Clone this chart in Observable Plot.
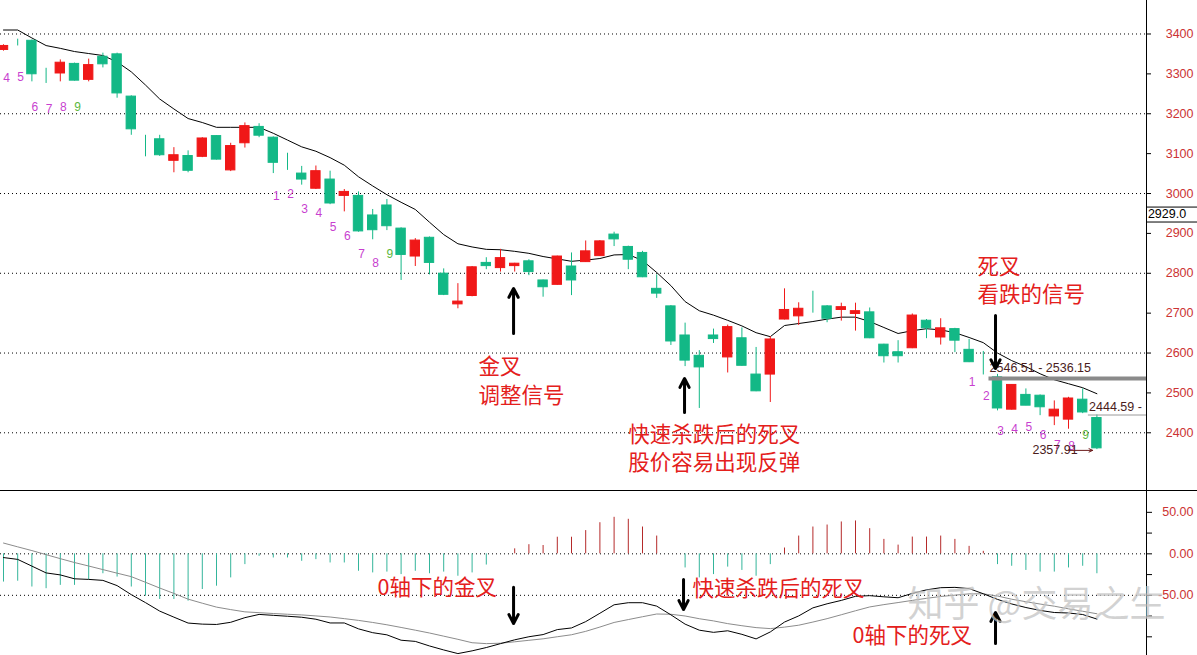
<!DOCTYPE html>
<html><head><meta charset="utf-8">
<script src="https://cdn.jsdelivr.net/npm/d3@7"></script>
<script src="https://cdn.jsdelivr.net/npm/@observablehq/plot@0.6"></script>
<style>
html,body{margin:0;padding:0;background:#fff;overflow:hidden}
#chart svg{display:block}
</style></head><body><div id="chart"></div>
<script>
// ---------- data ----------
const open  = [3360,3378,3383,3301,3301,3325,3285,3343,3349,3243,3130,3136,3082,3094,3092,3144,3058,3126,3167,3140,3069,3050,3012,3035,2994,2994,2945,2970,2912,2842,2889,2799,2722,2743,2826,2813,2818,2830,2782,2771,2817,2828,2843,2897,2866,2851,2761,2717,2644,2593,2644,2589,2637,2546,2546,2684,2692,2727,2717,2708,2698,2702,2621,2602,2612,2681,2639,2660,2608,2574,2539,2458,2495,2493,2441,2433,2483,2437];
const high  = [3373,3387,3385,3314,3335,3327,3337,3352,3352,3245,3146,3146,3115,3107,3140,3145,3126,3177,3175,3142,3101,3068,3069,3056,3010,3004,2960,2985,2914,2887,2891,2811,2774,2817,2839,2860,2825,2834,2783,2843,2851,2881,2882,2903,2868,2855,2796,2719,2675,2606,2660,2670,2663,2614,2641,2761,2726,2755,2719,2725,2725,2713,2622,2631,2698,2684,2686,2662,2634,2604,2546.51,2520,2510,2495,2480,2489,2510,2444.59];
const low   = [3357,3370,3280,3276,3280,3282,3280,3315,3239,3146,3092,3093,3052,3052,3090,3084,3055,3114,3140,3050,3058,3021,3010,2972,2954,2903,2884,2907,2782,2817,2796,2744,2711,2741,2809,2803,2803,2794,2740,2770,2744,2827,2842,2867,2809,2789,2737,2619,2566,2461,2624,2550,2567,2503,2476,2683,2669,2700,2676,2680,2655,2636,2575,2575,2611,2636,2620,2601,2576,2545,2455,2457,2468,2443,2418,2409,2448,2357.91];
const close = [3370,3378,3299,3301,3328,3283,3322,3324,3251,3161,3130,3096,3096,3057,3138,3085,3119,3169,3145,3077,3069,3035,3056,2975,3004,2905,2908,2918,2846,2882,2826,2746,2729,2815,2818,2838,2824,2803,2765,2842,2782,2855,2880,2885,2834,2790,2749,2629,2581,2564,2635,2665,2568,2504,2634,2708,2711,2727,2686,2715,2705,2637,2592,2592,2694,2662,2662,2631,2577,2574,2461,2520,2468,2464,2458,2486,2451,2361];
const maLine = [3410,3410,3390,3371,3364,3356,3351,3346,3330,3305,3272,3237,3212,3188,3178,3166,3166,3166,3166,3151,3134,3117,3106,3090,3071,3042,3019,2997,2978,2960,2928,2897,2874,2866,2860,2859,2855,2850,2842,2836,2830,2833,2837,2846,2847,2832,2802,2769,2729,2706,2695,2682,2668,2651,2641,2669,2674,2679,2685,2690,2690,2679,2664,2649,2656,2661,2658,2651,2639,2626,2600,2581,2566,2548,2533,2523,2513,2498];

const dif  = [-4.5,-6.7,-14.8,-23.0,-25.4,-30.1,-30.8,-32.0,-38.3,-49.2,-58.8,-69.0,-76.3,-83.4,-84.7,-85.1,-82.5,-76.9,-73.0,-74.1,-75.2,-76.4,-78.8,-83.3,-83.3,-90.4,-95.0,-97.6,-104.1,-105.5,-111.0,-115.8,-120.2,-116.9,-112.9,-108.2,-103.6,-99.9,-97.3,-91.3,-89.3,-81.7,-71.6,-61.4,-58.9,-58.9,-63.0,-73.5,-84.7,-92.0,-94.6,-92.7,-97.0,-102.5,-94.1,-82.2,-74.8,-65.1,-60.2,-56.1,-51.2,-50.4,-51.8,-52.9,-47.7,-43.4,-40.8,-40.4,-41.9,-48.1,-54.9,-60.4,-64.7,-68.2,-70.7,-71.3,-73.1,-78.6];
const dea  = [13.0,8.4,3.9,-1.0,-5.8,-10.5,-14.7,-19.0,-23.3,-27.5,-34.3,-41.2,-47.7,-54.6,-59.5,-64.2,-67.2,-69.9,-70.9,-71.9,-72.8,-73.6,-74.8,-76.1,-78.1,-80.2,-82.7,-85.5,-88.7,-92.0,-95.4,-99.2,-103.0,-107.1,-108.2,-107.7,-106.0,-104.2,-102.4,-99.9,-97.5,-93.4,-88.2,-82.7,-79.2,-75.8,-72.5,-72.8,-74.9,-78.2,-80.8,-84.1,-86.6,-88.9,-90.1,-88.3,-86.0,-82.2,-78.1,-73.4,-68.6,-64.0,-61.2,-58.7,-56.1,-53.6,-51.4,-49.8,-48.2,-48.2,-50.8,-54.7,-57.7,-60.5,-63.1,-66.3,-69.2,-72.2];
const hist = [-34,-33,-40,-42,-38,-38,-31,-24,-28,-40,-51,-55,-55,-57,-43,-39,-29,-13,-3,-5,-5,-9,-7,-11,-11,-21,-23,-22,-25,-21,-24,-22,-27,-23,-13.5,0,6,11,10,20,20,28,37.5,44,41.6,32.3,21.4,0,-17,-29,-25,-16,-20,-27,-13,7,21.4,32.3,34.7,38.4,39.6,30.3,17.4,10.5,20.2,20.2,21.4,17.4,9,3,-13,-15,-20,-22,-22,-17,-15,-24];

// TD-sequence count labels
const tdIdx   = [0,1,2,3,4,5, 19,20,21,22,23,24,25,26,27, 68,69,70,71,72,73,74,75,76];
const tdText  = ["4","5","6","7","8","9","1","2","3","4","5","6","7","8","9","1","2","3","4","5","6","7","8","9"];
const tdPrice = [3289,3292,3217,3212,3217,3217, 2993,2998,2960,2950,2915,2892,2847,2825,2847, 2526,2493,2405,2410,2415,2395,2370,2367,2395];

// price-axis ticks / grid
const mainTicks = [2400,2500,2600,2700,2800,2900,3000,3100,3200,3300,3400];
const mainGrid  = [2400,2600,2800,3000,3200,3400];
const macdTicks = [-100,-75,-50,-25,0,25,50];
const macdLabeled = [-50,0,50];
const macdGrid  = [0,-50];

// annotations (anchored at bar index / value)
const notesMain = [
  {i:33.45, p:2564, t:"金叉"},
  {i:33.45, p:2493, t:"调整信号"},
  {i:44.0,  p:2393, t:"快速杀跌后的死叉"},
  {i:44.0,  p:2323, t:"股价容易出现反弹"},
  {i:68.6,  p:2816, t:"死叉"},
  {i:68.6,  p:2744, t:"看跌的信号"}
];
const arrowsMain = [
  {i:35.92, p1:2649, p2:2762},
  {i:47.96, p1:2451, p2:2536},
  {i:69.86, p1:2694, p2:2561}
];
const notesMacd = [
  {i:26.34, v:-41.2, t:"0轴下的金叉"},
  {i:48.52, v:-43.0, t:"快速杀跌后的死叉"},
  {i:59.79, v:-99.6, t:"0轴下的死叉"}
];
const arrowsMacd = [
  {i:35.92, v1:-40.2, v2:-84.0},
  {i:47.89, v1:-31.0, v2:-67.1},
  {i:69.86, v1:-108.1, v2:-70.7}
];
const rangeLabel = "2546.51 - 2536.15";
const rangeLow = 2536.15;
const hiLabel = "2444.59 -", hiValue = 2444.59;
const loLabel = "2357.91",  loValue = 2357.91;
const lastLabel = "2929.0", lastBoxTop = 2966, lastBoxBottom = 2928.5, lastMid = 2949;
const watermark = "知乎 @交易之生";

// ---------- layout ----------
const W = 1197, AXIS_PX = 1146, BAR_PX = 14.2, X0_PX = 3;
const xDomain = [-X0_PX / BAR_PX, (AXIS_PX - X0_PX) / BAR_PX];
const xRight = xDomain[0] + W / BAR_PX;
const RED = "#f01818", GREEN = "#13b886";
const CJK = "'Noto Sans CJK SC', sans-serif";
const NUM = "'Liberation Sans', Arial, sans-serif";
const NOTE_RED = "#e4201c";

const candles = open.map((o, i) => ({i, o, h: high[i], l: low[i], c: close[i]}));
const cColor = d => d.c > d.o ? RED : GREEN;
const ma = maLine.map((v, i) => ({i, v}));
const td = tdIdx.map((i, k) => ({i, t: tdText[k], p: tdPrice[k]}));
const macd = hist.map((h, i) => ({i, h, dif: dif[i], dea: dea[i]}));

const main = Plot.plot({
  width: W, height: 491,
  marginTop: 0, marginBottom: 1, marginLeft: 0, marginRight: W - AXIS_PX,
  x: {domain: xDomain, axis: null},
  y: {domain: [2255.3, 3484], axis: null},
  style: {fontFamily: NUM, background: "#fff", overflow: "visible"},
  marks: [
    Plot.ruleY(mainGrid, {stroke: "#000", strokeDasharray: "1,3", strokeWidth: 1}),
    Plot.line(ma, {x: "i", y: "v", stroke: "#000", strokeWidth: 1}),
    Plot.ruleX(candles, {x: "i", y1: "l", y2: "h", stroke: cColor, strokeWidth: 1}),
    Plot.rect(candles, {x1: d => d.i - 0.33, x2: d => d.i + 0.33, y1: "o", y2: "c", fill: cColor, stroke: cColor, strokeWidth: 1}),
    Plot.text(td, {x: "i", y: "p", text: "t", dx: 3, fontSize: 12, fontFamily: NUM,
      fill: d => d.t === "9" ? "#5cb83c" : "#c83fcf"}),
    // range / high / low markers
    Plot.ruleY([rangeLow], {x1: 69.4, x2: xDomain[1], stroke: "#8a8a8a", strokeWidth: 4}),
    Plot.text([rangeLabel], {x: 69.44, y: 2563, text: d => d, textAnchor: "start", fontSize: 12.5, fill: "#4a1c1c", fontFamily: NUM}),
    Plot.ruleY([hiValue], {x1: 76.4, x2: xDomain[1], stroke: "#9a9a9a", strokeWidth: 1}),
    Plot.text([hiLabel], {x: 76.45, y: 2464, text: d => d, textAnchor: "start", fontSize: 12.5, fill: "#4a1c1c", fontFamily: NUM}),
    Plot.text([loLabel], {x: 72.46, y: loValue, text: d => d, textAnchor: "start", fontSize: 12.5, fill: "#4a1c1c", fontFamily: NUM}),
    Plot.arrow([loValue], {x1: 75.0, x2: 76.7, y1: d => d - 2, y2: d => d - 2, stroke: "#6a1a1a", strokeWidth: 1, headLength: 6, headAngle: 50}),
    // annotations
    Plot.text(notesMain, {x: "i", y: "p", text: "t", textAnchor: "start", fontSize: 21.5, fontFamily: CJK, fill: NOTE_RED}),
    Plot.arrow(arrowsMain, {x1: "i", x2: "i", y1: "p1", y2: "p2", stroke: "#000", strokeWidth: 3, headLength: 5, headAngle: 55}),
    // right axis
    Plot.ruleX([xDomain[1]], {stroke: "#000"}),
    Plot.axisY({anchor: "right", ticks: mainTicks, tickSize: 4, tickPadding: 43, textAnchor: "end",
      tickFormat: d => String(d), stroke: "#000", fill: "#cc3333", fontSize: 12.5, label: null}),
    // last value box
    Plot.ruleY([lastBoxTop, lastBoxBottom], {x1: xDomain[1], x2: xRight, stroke: "#000", strokeWidth: 1}),
    Plot.text([lastLabel], {x: xDomain[1] + 0.1, y: lastMid, text: d => d, textAnchor: "start", fontSize: 12.5, fill: "#000", fontFamily: NUM}),
    // panel bottom border
    Plot.ruleY([2255.3], {x1: xDomain[0], x2: xRight, stroke: "#000", strokeWidth: 1})
  ]
});

const sub = Plot.plot({
  width: W, height: 164,
  marginTop: 0, marginBottom: 0, marginLeft: 0, marginRight: W - AXIS_PX,
  x: {domain: xDomain, axis: null},
  y: {domain: [-122.5, 75.1], axis: null},
  style: {fontFamily: NUM, background: "#fff", overflow: "visible"},
  marks: [
    Plot.ruleY(macdGrid, {stroke: "#000", strokeDasharray: "1,3", strokeWidth: 1}),
    Plot.ruleX(macd, {x: "i", y1: 0, y2: "h", stroke: d => d.h >= 0 ? "#b52a2a" : "#34b59b", strokeWidth: 1}),
    Plot.line(macd, {x: "i", y: "dea", stroke: "#8c8c8c", strokeWidth: 1}),
    Plot.line(macd, {x: "i", y: "dif", stroke: "#000", strokeWidth: 1}),
    Plot.text(notesMacd, {x: "i", y: "v", text: "t", textAnchor: "start", fontSize: 21.5, fontFamily: CJK, fill: NOTE_RED}),
    Plot.arrow(arrowsMacd, {x1: "i", x2: "i", y1: "v1", y2: "v2", stroke: "#000", strokeWidth: 3, headLength: 5, headAngle: 55}),
    Plot.ruleX([xDomain[1]], {stroke: "#000"}),
    Plot.axisY({anchor: "right", ticks: macdTicks, tickSize: 5, tickPadding: 42, textAnchor: "end",
      tickFormat: d => macdLabeled.includes(d) ? d.toFixed(2) : "", stroke: "#000", fill: "#cc3333", fontSize: 12.5, label: null}),
    Plot.text([watermark], {x: 63.66, y: -62.3, text: d => d, textAnchor: "start", fontSize: 36, fontFamily: CJK,
      fill: "#c4c4c4", fillOpacity: 0.75})
  ]
});

const root = document.getElementById("chart");
root.append(main, sub);
</script>
</body></html>
